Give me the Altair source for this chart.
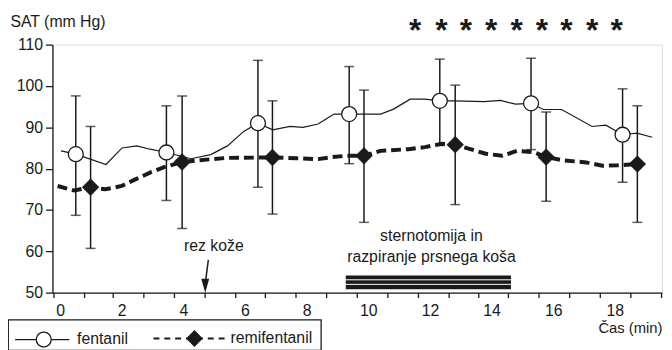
import altair as alt
import pandas as pd

FONT = "Liberation Sans"
INK = "#1a1a1a"

# ---- data ----
fen_trace_t = [0.03, 0.51, 1.49, 2.01, 2.49, 2.92, 3.45, 4.25, 4.89, 5.43,
               5.96, 6.42, 6.90, 7.46, 7.88, 8.37, 8.63, 8.89, 9.38, 10.40,
               10.82, 11.36, 11.84, 12.32, 12.80, 13.76, 14.29, 14.78, 15.28, 15.68,
               16.27, 17.26, 17.71, 18.25, 18.72, 19.21]
fen_trace_v = [84.3, 83.5, 81.0, 85.0, 85.5, 84.7, 83.9, 82.4, 83.4, 85.5,
               89.0, 91.0, 89.4, 90.2, 90.0, 90.8, 92.0, 93.2, 93.2, 93.2,
               94.4, 96.8, 96.8, 96.4, 96.4, 96.2, 96.5, 95.6, 95.8, 94.3,
               94.3, 90.2, 90.5, 88.2, 88.6, 87.6]

remi_trace_t = [-0.08, 0.46, 0.99, 1.47, 2.00, 2.44, 2.97, 3.40, 3.96, 4.46,
                5.43, 6.89, 7.67, 8.37, 8.84, 9.27, 9.86, 10.39, 11.30, 11.84,
                12.37, 12.82, 13.28, 13.81, 14.35, 14.83, 15.36, 15.77, 16.32, 17.07,
                17.60, 18.09, 18.73]
remi_trace_v = [75.8, 74.7, 75.5, 75.0, 75.8, 77.4, 79.2, 80.4, 81.6, 82.0,
                82.6, 82.7, 82.5, 82.3, 82.8, 83.1, 83.1, 84.3, 84.7, 85.2,
                86.0, 85.8, 84.8, 83.6, 83.1, 84.3, 84.0, 82.8, 82.0, 81.5,
                80.7, 80.8, 81.1]

fen_t = [0.51, 3.45, 6.42, 9.38, 12.32, 15.28, 18.25]
fen_mean = [83.5, 83.9, 91.0, 93.2, 96.4, 95.8, 88.2]
fen_hi = [97.6, 95.2, 106.2, 104.7, 106.5, 106.7, 99.3]
fen_lo = [68.7, 72.3, 75.5, 81.2, 85.6, 84.6, 76.7]

remi_t = [0.99, 3.96, 6.89, 9.86, 12.82, 15.77, 18.73]
remi_mean = [75.5, 81.6, 82.7, 83.1, 85.8, 82.8, 81.1]
remi_hi = [90.2, 97.6, 96.4, 99.0, 100.2, 93.7, 95.2]
remi_lo = [60.7, 65.5, 69.0, 67.0, 71.3, 72.1, 67.0]

x_labels = [0, 2, 4, 6, 8, 10, 12, 14, 16, 18]
x_ticks = [-0.21, 0.78, 1.71, 2.70, 3.69, 4.68, 5.68, 6.65, 7.65, 8.63, 9.62,
           10.61, 11.60, 12.61, 13.57, 14.53, 15.52, 16.51, 17.50, 18.51, 19.51]
y_ticks = [50, 60, 70, 80, 90, 100, 110]
x_domain = [-0.247, 19.53]
y_domain = [50, 110]

star_t = [11.52, 12.37, 13.17, 13.99, 14.81, 15.63, 16.43, 17.26, 18.06]
star_v = [110.8] * 9

note_text = ["rez kože", "sternotomija in", "razpiranje prsnega koša"]
note_t = [4.99, 12.05, 12.05]
note_v = [61.3, 63.7, 58.5]

arrow_t = [4.81, 4.73]
arrow_v = [57.9, 53.3]
arrowhead_t = [4.71]
arrowhead_v = [51.67]

band_t = [9.27, 14.63]
band_v = [50.8, 54.15]
band_lines_v = [53.1, 52.0]

legend_box_t = [-1.68, 8.47]
legend_box_v = [36.0, 43.38]
legend_names = ["fentanil", "remifentanil"]
legend_line_t = [[-1.46, 0.30], [3.03, 5.43]]
legend_line_v = [38.65, 38.9]
legend_mark_t = [-0.53, 4.36]
legend_text_t = [0.55, 5.53]

# ---- tables ----
fen_trace = pd.DataFrame({"t": fen_trace_t, "v": fen_trace_v})
remi_trace = pd.DataFrame({"t": remi_trace_t, "v": remi_trace_v})
fen = pd.DataFrame({"t": fen_t, "v": fen_mean, "lo": fen_lo, "hi": fen_hi})
remi = pd.DataFrame({"t": remi_t, "v": remi_mean, "lo": remi_lo, "hi": remi_hi})
stars = pd.DataFrame({"t": star_t, "v": star_v})
notes = pd.DataFrame({"t": note_t, "v": note_v, "label": note_text})
arrow = pd.DataFrame({"t": arrow_t, "v": arrow_v})
arrowhead = pd.DataFrame({"t": arrowhead_t, "v": arrowhead_v})
band = pd.DataFrame({"t": [band_t[0]], "t2": [band_t[1]], "v": [band_v[0]], "v2": [band_v[1]]})
band_lines = pd.DataFrame({"t": [band_t[0]] * 2, "t2": [band_t[1]] * 2, "v": band_lines_v})
legend_box = pd.DataFrame({"t": [legend_box_t[0]], "t2": [legend_box_t[1]],
                           "v": [legend_box_v[0]], "v2": [legend_box_v[1]]})
leg_fen_line = pd.DataFrame({"t": legend_line_t[0], "v": [legend_line_v[0]] * 2})
leg_remi_line = pd.DataFrame({"t": legend_line_t[1], "v": [legend_line_v[1]] * 2})
leg_fen_mark = pd.DataFrame({"t": [legend_mark_t[0]], "v": [legend_line_v[0]]})
leg_remi_mark = pd.DataFrame({"t": [legend_mark_t[1]], "v": [legend_line_v[1]]})
leg_text = pd.DataFrame({"t": legend_text_t, "v": legend_line_v, "label": legend_names})
tick_df = pd.DataFrame({"t": x_ticks})

# ---- scales / axes ----
xs = alt.Scale(domain=x_domain, nice=False, zero=False)
ys = alt.Scale(domain=y_domain, nice=False, zero=False)

label_axis = alt.Axis(values=x_labels, ticks=False, domain=False, grid=False,
                      labelPadding=10, labelFontSize=16, labelFont=FONT, labelColor=INK,
                      title="Čas (min)", titleFont=FONT, titleFontSize=15,
                      titleFontWeight="normal", titleColor=INK,
                      titleX=617, titleY=35, titleAlign="right",
                      titleBaseline="middle", titleAnchor="end", orient="bottom")
tick_axis = alt.Axis(values=x_ticks, labels=False, ticks=True, tickSize=5,
                     tickWidth=1.3, tickColor=INK, domain=True, domainColor=INK,
                     domainWidth=1.3, grid=False, title=None, orient="bottom")
y_axis = alt.Axis(values=y_ticks, tickSize=7, tickWidth=1.3, tickColor=INK,
                  domainColor=INK, domainWidth=1.3, grid=False,
                  labelPadding=3, labelFontSize=16, labelFont=FONT, labelColor=INK,
                  title="SAT (mm Hg)", titleFont=FONT, titleFontSize=16,
                  titleFontWeight="normal", titleColor=INK, titleAngle=0,
                  titleAlign="left", titleBaseline="middle", titleX=-43, titleY=-23)

X = alt.X("t:Q", scale=xs, axis=label_axis)
Y = alt.Y("v:Q", scale=ys, axis=y_axis)


def base(df):
    return alt.Chart(df)


layers = []
# sternotomy band
layers.append(base(band).mark_rect(color=INK).encode(x=X, x2="t2:Q", y=Y, y2="v2:Q"))
layers.append(base(band_lines).mark_rule(color="white", strokeWidth=1).encode(x=X, x2="t2:Q", y=Y))
# traces
layers.append(base(fen_trace).mark_line(color=INK, strokeWidth=1.2).encode(x=X, y=Y))
layers.append(base(remi_trace).mark_line(color=INK, strokeWidth=4, strokeDash=[10, 5]).encode(x=X, y=Y))
# error bars
for df in (fen, remi):
    layers.append(base(df).mark_rule(color=INK, strokeWidth=1.5).encode(
        x=X, y=alt.Y("lo:Q", scale=ys, axis=y_axis), y2="hi:Q"))
    layers.append(base(df).mark_tick(color=INK, orient="horizontal", size=10, thickness=1.5).encode(
        x=X, y=alt.Y("hi:Q", scale=ys, axis=y_axis)))
    layers.append(base(df).mark_tick(color=INK, orient="horizontal", size=10, thickness=1.5).encode(
        x=X, y=alt.Y("lo:Q", scale=ys, axis=y_axis)))
# markers
layers.append(base(fen).mark_point(shape="circle", filled=True, fill="white", stroke=INK,
                                   strokeWidth=1.3, size=230, opacity=1).encode(x=X, y=Y))
layers.append(base(remi).mark_point(shape="diamond", filled=True, fill=INK, stroke=INK,
                                    strokeWidth=0.5, size=290, opacity=1).encode(x=X, y=Y))
# annotations
layers.append(base(notes).mark_text(font=FONT, fontSize=16, color=INK, align="center",
                                    baseline="middle").encode(x=X, y=Y, text="label:N"))
layers.append(base(arrow).mark_line(color=INK, strokeWidth=1.5).encode(x=X, y=Y))
layers.append(base(arrowhead).mark_point(shape="M-0.57,-1L0.57,-1L0,1Z", filled=True, fill=INK,
                                         size=196, opacity=1, strokeWidth=0).encode(x=X, y=Y))
layers.append(base(stars).mark_text(text="*", font=FONT, fontSize=32, fontWeight="bold",
                                    color=INK, align="center", baseline="alphabetic",
                                    clip=False).encode(x=X, y=Y))
# legend drawn below the axis
layers.append(base(legend_box).mark_rect(fillOpacity=0, stroke=INK, strokeWidth=1.3,
                                         clip=False).encode(x=X, x2="t2:Q", y=Y, y2="v2:Q"))
layers.append(base(leg_fen_line).mark_line(color=INK, strokeWidth=1.3, clip=False).encode(x=X, y=Y))
layers.append(base(leg_remi_line).mark_line(color=INK, strokeWidth=2, strokeDash=[6, 5],
                                            clip=False).encode(x=X, y=Y))
layers.append(base(leg_fen_mark).mark_point(shape="circle", filled=True, fill="white", stroke=INK,
                                            strokeWidth=1.3, size=230, opacity=1,
                                            clip=False).encode(x=X, y=Y))
layers.append(base(leg_remi_mark).mark_point(shape="diamond", filled=True, fill=INK,
                                             size=290, opacity=1, clip=False).encode(x=X, y=Y))
layers.append(base(leg_text).mark_text(font=FONT, fontSize=16, color=INK, align="left",
                                       baseline="middle", clip=False).encode(x=X, y=Y, text="label:N"))

main = alt.layer(*layers)

ticks_layer = alt.Chart(tick_df).mark_point(opacity=0).encode(
    x=alt.X("t:Q", scale=alt.Scale(domain=x_domain, nice=False, zero=False), axis=tick_axis))

chart = alt.layer(main, ticks_layer).resolve_scale(x="independent").properties(
    width=617, height=251,
    autosize=alt.AutoSizeParams(type="none"),
    padding={"left": 45, "top": 35, "right": 2, "bottom": 56},
).configure_view(stroke=None).configure(background="white")

chart.save("out.html", embed_options={"renderer": "svg", "actions": False})
